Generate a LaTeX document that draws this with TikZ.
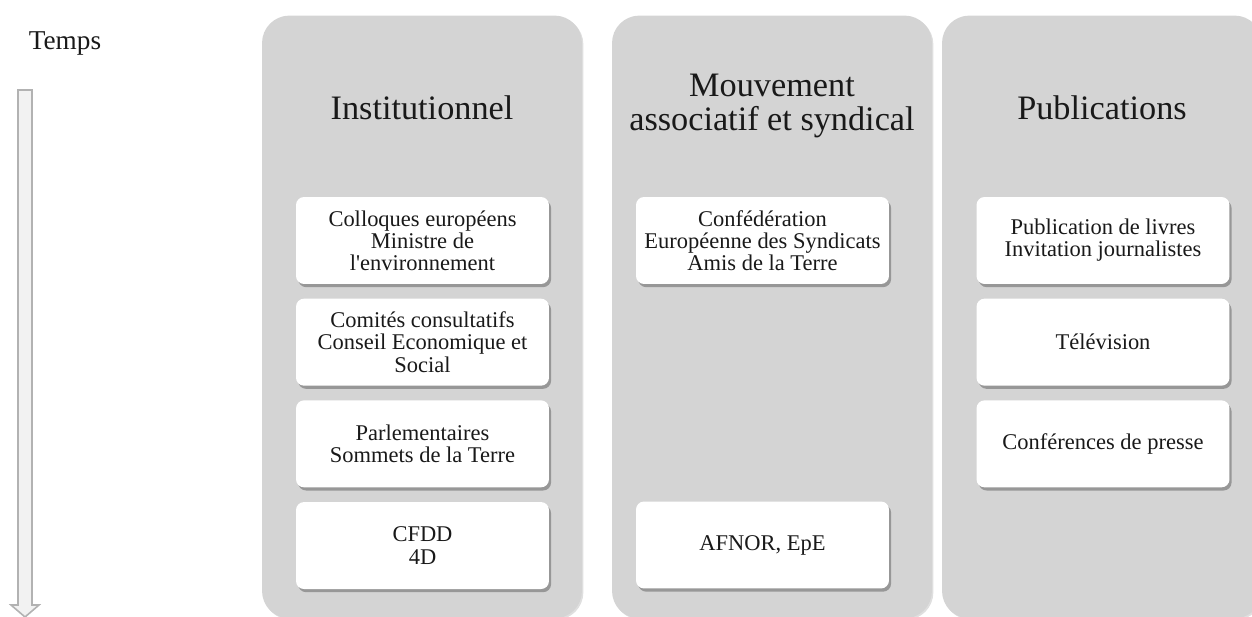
\documentclass[tikz,border=0pt]{standalone}
\usepackage{fontspec}
\setmainfont{Liberation Serif}
\usetikzlibrary{shadows, positioning}

\begin{document}
\begin{tikzpicture}[
    x=0.02cm, y=-0.02cm,
    node distance=0.28cm,
    column/.style={fill=black!17, rounded corners=0.55cm, minimum width=6.4cm, minimum height=12.06cm,
        drop shadow={shadow xshift=0.8pt, shadow yshift=-0.8pt, opacity=0.25}},
    coltitle/.style={align=center, text=black!90, font=\fontsize{19.5}{19}\selectfont},
    item/.style={fill=white, rounded corners=0.16cm, minimum width=5.06cm, minimum height=1.74cm,
        align=center, text=black!90, font=\fontsize{12.8}{12.6}\selectfont, inner sep=2pt,
        drop shadow={shadow xshift=1.2pt, shadow yshift=-1.8pt, opacity=0.55, fill=black!60}},
    timearrow/.style={fill=black!5, draw=black!30, line width=0.9pt}
]
\useasboundingbox (0,0) rectangle (1252,617);

% Time axis
\node[text=black!90, font=\fontsize{15.5}{18}\selectfont] (temps) at (65,43) {Temps};
\draw[timearrow] (18,90) -- (32,90) -- (32,605) -- (39,605) -- (25,617) -- (11,605) -- (18,605) -- cycle;

% Columns
\node[column] (inst) at (422,317) {};
\node[column] (assoc) at (772,317) {};
\node[column] (pub) at (1102,317) {};

\node[coltitle] (instT) at (422,108) {Institutionnel};
\node[coltitle] (assocT) at (772,106) {Mouvement\\associatif et syndical};
\node[coltitle] (pubT) at (1102,108) {Publications};

% Institutionnel
\node[item] (colloq) at (422.5,240.5) {Colloques européens\\Ministre de\\l\textquotesingle environnement};
\node[item, below=of colloq] (comites) {Comités consultatifs\\Conseil Economique et\\Social};
\node[item, below=of comites] (parl) {Parlementaires\\Sommets de la Terre};
\node[item, below=of parl] (cfdd) {CFDD\\4D};

% Mouvement associatif et syndical
\node[item] (ces) at (762.5,240.5) {Confédération\\Européenne des Syndicats\\Amis de la Terre};
\node[item] (afnor) at (762.5,545) {AFNOR, EpE};

% Publications
\node[item] (livres) at (1103,240.5) {Publication de livres\\Invitation journalistes};
\node[item, below=of livres] (tele) {Télévision};
\node[item, below=of tele] (presse) {Conférences de presse};

\end{tikzpicture}
\end{document}
